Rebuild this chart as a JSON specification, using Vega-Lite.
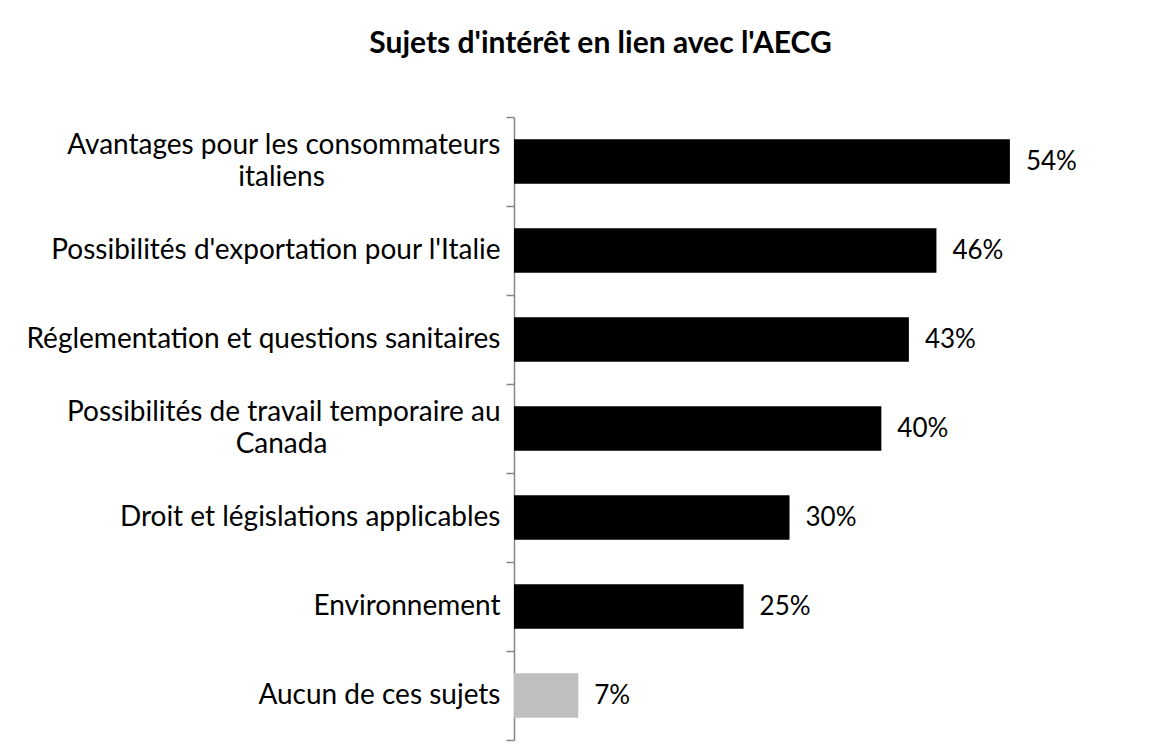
{
  "$schema": "https://vega.github.io/schema/vega-lite/v6.json",
  "width": 551,
  "height": 623,
  "autosize": "none",
  "padding": {"left": 514, "top": 117, "right": 88, "bottom": 8},
  "background": "white",
  "config": {"view": {"stroke": null}, "font": "Lato"},
  "title": {
    "text": "Sujets d'intérêt en lien avec l'AECG",
    "font": "Lato",
    "fontSize": 30,
    "fontWeight": "bold",
    "color": "#000000",
    "anchor": "middle",
    "baseline": "bottom",
    "offset": 14,
    "dx": -189
  },
  "data": {
    "values": [
      {"category": "Avantages pour les consommateurs italiens", "value": 0.54},
      {"category": "Possibilités d'exportation pour l'Italie", "value": 0.46},
      {"category": "Réglementation et questions sanitaires", "value": 0.43},
      {"category": "Possibilités de travail temporaire au Canada", "value": 0.40},
      {"category": "Droit et législations applicables", "value": 0.30},
      {"category": "Environnement", "value": 0.25},
      {"category": "Aucun de ces sujets", "value": 0.07}
    ]
  },
  "resolve": {"axis": {"y": "independent"}},
  "layer": [
    {
      "mark": {"type": "bar", "height": {"band": 0.5}},
      "encoding": {
        "y": {
          "field": "category",
          "type": "nominal",
          "sort": null,
          "scale": {"paddingInner": 0, "paddingOuter": 0},
          "axis": {
            "title": null,
            "orient": "left",
            "domainColor": "#868686",
            "domainWidth": 1.5,
            "tickColor": "#868686",
            "tickWidth": 1.5,
            "tickSize": 8,
            "tickBand": "extent",
            "labelFont": "Lato",
            "labelFontSize": 28,
            "labelColor": "#000000",
            "labelAlign": "right",
            "labelBaseline": "middle",
            "labelPadding": 6,
            "labelLimit": 600,
            "labelOffset": {
              "condition": {"test": "datum.value == 'Avantages pour les consommateurs italiens' || datum.value == 'Possibilités de travail temporaire au Canada'", "value": -16},
              "value": 0
            },
            "labelExpr": "datum.value == 'Avantages pour les consommateurs italiens' ? 'Avantages pour les consommateurs' : datum.value == 'Possibilités de travail temporaire au Canada' ? 'Possibilités de travail temporaire au' : datum.value"
          }
        },
        "x": {
          "field": "value",
          "type": "quantitative",
          "scale": {"domain": [0, 0.6], "nice": false, "zero": true},
          "axis": null
        },
        "color": {
          "condition": {"test": "datum.category == 'Aucun de ces sujets'", "value": "#BFBFBF"},
          "value": "#000000"
        }
      }
    },
    {
      "mark": {"type": "text", "align": "left", "baseline": "middle", "dx": 16, "font": "Lato", "fontSize": 26, "color": "#000000"},
      "encoding": {
        "y": {
          "field": "category",
          "type": "nominal",
          "sort": null,
          "axis": {
            "title": null,
            "orient": "left",
            "domain": false,
            "ticks": false,
            "labelFont": "Lato",
            "labelFontSize": 28,
            "labelColor": "#000000",
            "labelAlign": "center",
            "labelBaseline": "middle",
            "labelPadding": 233,
            "labelLimit": 600,
            "labelOffset": 16,
            "labelExpr": "datum.value == 'Avantages pour les consommateurs italiens' ? 'italiens' : datum.value == 'Possibilités de travail temporaire au Canada' ? 'Canada' : ''"
          }
        },
        "x": {"field": "value", "type": "quantitative"},
        "text": {"field": "value", "type": "quantitative", "format": ".0%"}
      }
    }
  ]
}
